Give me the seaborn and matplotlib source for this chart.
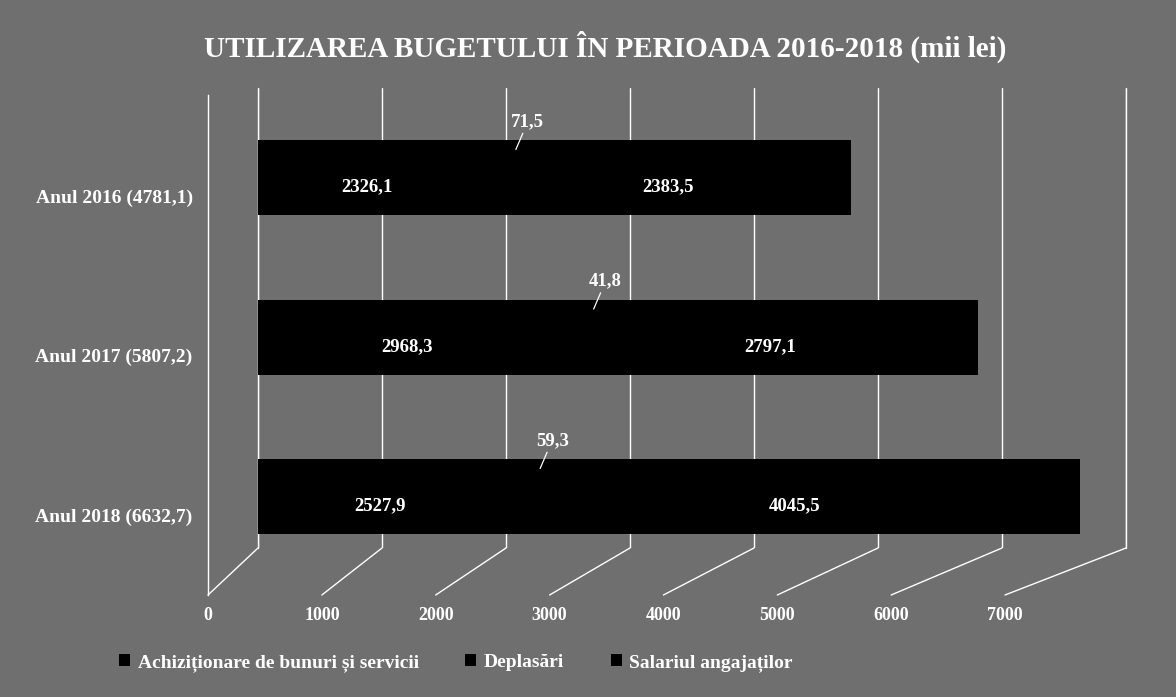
import pandas as pd
import seaborn as sns
import matplotlib.pyplot as plt
import matplotlib.transforms as mtransforms
from matplotlib.patches import ConnectionPatch, Patch

# data (mii lei)
years = ["Anul 2016 (4781,1)", "Anul 2017 (5807,2)", "Anul 2018 (6632,7)"]
series = ["Achiziționare de bunuri și servicii", "Deplasări", "Salariul angajaților"]
achizitii = [2326.1, 2968.3, 2527.9]
deplasari = [71.5, 41.8, 59.3]
salarii = [2383.5, 2797.1, 4045.5]
xticks = [0, 1000, 2000, 3000, 4000, 5000, 6000, 7000]

df = pd.DataFrame({"An": years, "Achizitii": achizitii,
                   "Deplasari": deplasari, "Salarii": salarii})
df["cum1"] = df["Achizitii"]
df["cum2"] = df["cum1"] + df["Deplasari"]
df["cum3"] = df["cum2"] + df["Salarii"]

bg = "#6f6f6f"
sns.set_style("dark", {"axes.facecolor": bg, "figure.facecolor": bg})
plt.rcParams["font.family"] = ["Liberation Serif", "DejaVu Serif"]
plt.rcParams["font.weight"] = "bold"

W, H = 1176, 697
fig = plt.figure(figsize=(W / 100, H / 100), dpi=100)
fig.patch.set_facecolor(bg)

# front plane: category labels, x tick labels, left wall edge
fax = fig.add_axes([208 / W, 1 - 595 / H, 797 / W, 500 / H])
fax.set_facecolor("none")
fax.set_xlim(0, 7000)
fax.set_xticks(xticks)
fax.set_xticklabels([str(t) for t in xticks], color="white", fontsize=13, fontweight="bold")
fax.set_yticks(range(len(years)))
fax.set_yticklabels(years, color="white", fontsize=14, fontweight="bold")
fax.set_ylim(2.502, -0.633)
fax.tick_params(axis="x", length=0, pad=9)
fax.tick_params(axis="y", length=0, pad=11)
fax.grid(False)
for s in ["top", "right", "bottom"]:
    fax.spines[s].set_visible(False)
fax.spines["left"].set_color("white")
fax.spines["left"].set_linewidth(1)

# back plane with bars
ax = fig.add_axes([258 / W, 1 - 548 / H, 868 / W, 460 / H])
ax.set_facecolor("none")
for col in ["cum3", "cum2", "cum1"]:
    sns.barplot(data=df, x=col, y="An", orient="y", color="black", saturation=1,
                width=0.47, linewidth=0, edgecolor="none", ax=ax, zorder=3)
ax.set_xlim(0, 7000)
ax.set_ylim(2.32, -0.564)
ax.set_xticks(xticks)
ax.grid(axis="x", color="white", linewidth=1)
ax.grid(axis="y", visible=False)
ax.axvline(xticks[0], color="white", linewidth=1, clip_on=False, zorder=1)
ax.axvline(xticks[-1], color="white", linewidth=1, clip_on=False, zorder=1)
ax.set_axisbelow(True)
ax.tick_params(labelbottom=False, labelleft=False, length=0)
ax.set_xlabel("")
ax.set_ylabel("")
for s in ax.spines.values():
    s.set_visible(False)

# floor diagonals joining back gridlines to front ticks
for t in xticks:
    con = ConnectionPatch(xyA=(t, 0), coordsA=ax.get_xaxis_transform(),
                          xyB=(t, 0), coordsB=fax.get_xaxis_transform(),
                          color="white", linewidth=1)
    fig.add_artist(con)

# value labels sit on the bar front face
front = ax.transData + mtransforms.Affine2D().translate(-35, -9)
fmt = lambda v: f"{v:.1f}".replace(".", ",")
for i in range(len(years)):
    ax.annotate(fmt(achizitii[i]), xy=(achizitii[i] / 2, i), xycoords=front,
                ha="center", va="center", color="white", fontsize=13.5, fontweight="bold")
    xs = achizitii[i] + deplasari[i] + salarii[i] / 2
    ax.annotate(fmt(salarii[i]), xy=(xs, i), xycoords=front,
                ha="center", va="center", color="white", fontsize=13.5, fontweight="bold")
    xd = achizitii[i] + deplasari[i] / 2
    ax.annotate(fmt(deplasari[i]), xy=(xd, i - 0.235), xycoords=front,
                xytext=(12, 28), textcoords="offset pixels",
                ha="center", va="center", color="white", fontsize=13.5, fontweight="bold",
                arrowprops=dict(arrowstyle="-", color="white", lw=0.9, shrinkA=0, shrinkB=0))

fig.text(605 / W, 1 - 47 / H, "UTILIZAREA BUGETULUI ÎN PERIOADA 2016-2018 (mii lei)",
         ha="center", va="center", color="white", fontsize=21, fontweight="bold")

handles = [Patch(facecolor="black", edgecolor="none") for _ in series]
fig.legend(handles, series, loc="center", bbox_to_anchor=(456 / W, 1 - 663 / H),
           ncol=3, frameon=False, labelcolor="white", fontsize=14,
           handlelength=0.55, handleheight=0.55, handletextpad=0.4, columnspacing=2.4)

fig.savefig("out.png", dpi=100, facecolor=bg)
